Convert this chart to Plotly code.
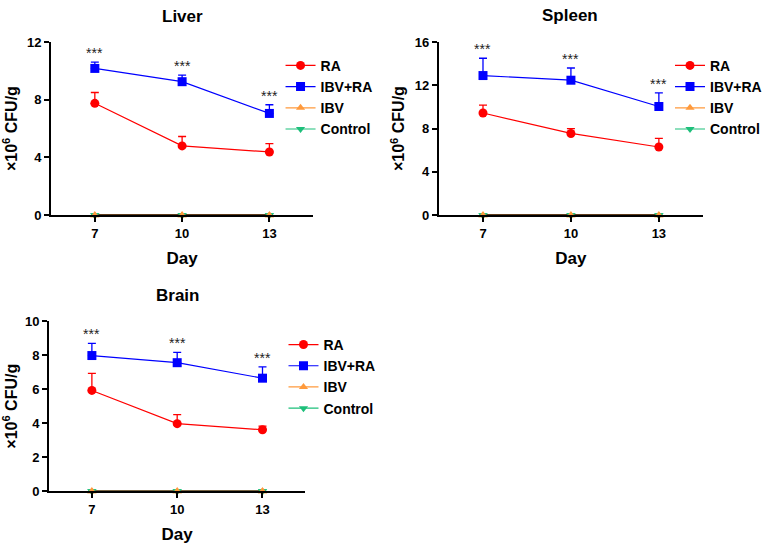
import plotly.graph_objects as go

days = [7, 10, 13]
panels = ["Liver", "Spleen", "Brain"]

liver_ra = [7.75, 4.8, 4.38]
liver_ra_err = [0.75, 0.65, 0.57]
liver_ibvra = [10.17, 9.25, 7.05]
liver_ibvra_err = [0.43, 0.45, 0.6]

spleen_ra = [9.44, 7.55, 6.3]
spleen_ra_err = [0.72, 0.45, 0.8]
spleen_ibvra = [12.9, 12.47, 10.04]
spleen_ibvra_err = [1.6, 1.13, 1.26]

brain_ra = [5.93, 3.98, 3.62]
brain_ra_err = [1.0, 0.53, 0.21]
brain_ibvra = [7.98, 7.56, 6.65]
brain_ibvra_err = [0.72, 0.61, 0.66]

ibv = [0, 0, 0]
control = [0, 0, 0]

y_max = [12, 16, 10]
y_dtick = [4, 4, 2]
sig_labels = ["***", "***", "***"]

FONT = "Liberation Sans, Arial, sans-serif"
RED = "#FF0000"
BLUE = "#0000FF"
ORANGE = "#FF9A3C"
GREEN = "#1DBF7A"

data = [
    (liver_ra, liver_ra_err, liver_ibvra, liver_ibvra_err),
    (spleen_ra, spleen_ra_err, spleen_ibvra, spleen_ibvra_err),
    (brain_ra, brain_ra_err, brain_ibvra, brain_ibvra_err),
]

W, H = 767, 548
xdom = [(52 / W, 318 / W), (446 / W, 714 / W), (50 / W, 310 / W)]
ydom = [(1 - 214 / H, 1 - 36 / H), (1 - 214 / H, 1 - 36 / H), (1 - 498 / H, 1 - 323 / H)]
legpos = [(285 / W, 1 - 44 / H), (681 / W, 1 - 44 / H), (288 / W, 1 - 331 / H)]
titlepos = [(185 / W, 1 - 10 / H), (579 / W, 1 - 9 / H), (180 / W, 1 - 297 / H)]

fig = go.Figure()
annotations = []

for i, (ra, ra_e, ir, ir_e) in enumerate(data):
    xa = "x" if i == 0 else f"x{i+1}"
    ya = "y" if i == 0 else f"y{i+1}"
    lg = "legend" if i == 0 else f"legend{i+1}"
    common = dict(xaxis=xa, yaxis=ya, legend=lg, mode="lines+markers", cliponaxis=False)
    fig.add_trace(go.Scatter(
        x=days, y=ra, name="RA",
        line=dict(color=RED, width=1.2),
        marker=dict(symbol="circle", size=9, color=RED),
        error_y=dict(type="data", array=ra_e, arrayminus=[0, 0, 0], symmetric=False,
                     color=RED, thickness=1.3, width=4),
        **common))
    fig.add_trace(go.Scatter(
        x=days, y=ir, name="IBV+RA",
        line=dict(color=BLUE, width=1.2),
        marker=dict(symbol="square", size=9, color=BLUE),
        error_y=dict(type="data", array=ir_e, arrayminus=[0, 0, 0], symmetric=False,
                     color=BLUE, thickness=1.3, width=4),
        **common))
    fig.add_trace(go.Scatter(
        x=days, y=ibv, name="IBV",
        line=dict(color=ORANGE, width=1.2),
        marker=dict(symbol="triangle-up", size=8, color=ORANGE),
        **common))
    fig.add_trace(go.Scatter(
        x=days, y=control, name="Control",
        line=dict(color=GREEN, width=1.2),
        marker=dict(symbol="triangle-down", size=8, color=GREEN),
        **common))

    fig.add_trace(go.Scatter(
        x=days, y=ibv, mode="lines", showlegend=False, hoverinfo="skip",
        line=dict(color="#5E3C1C", width=2.2), xaxis=xa, yaxis=ya, cliponaxis=False))
    fig.add_trace(go.Scatter(
        x=days, y=control, mode="markers", showlegend=False, hoverinfo="skip",
        marker=dict(symbol="triangle-down", size=8, color=GREEN),
        xaxis=xa, yaxis=ya, cliponaxis=False))
    fig.add_trace(go.Scatter(
        x=days, y=ibv, mode="markers", showlegend=False, hoverinfo="skip",
        marker=dict(symbol="triangle-up", size=8, color=ORANGE),
        xaxis=xa, yaxis=ya, cliponaxis=False))

    axis_x = dict(
        domain=list(xdom[i]), range=[5.5, 14.5], tickvals=days,
        ticktext=[str(d) for d in days], showgrid=False, zeroline=False,
        showline=True, linecolor="black", linewidth=2.2, ticks="outside",
        ticklen=5, tickwidth=2, tickcolor="black",
        tickfont=dict(family=FONT, size=13, color="black", weight="bold"),
        title=dict(text="<b>Day</b>", font=dict(family=FONT, size=17, color="black"), standoff=12),
        anchor=ya, fixedrange=True)
    axis_y = dict(
        domain=list(ydom[i]), range=[0, y_max[i]], dtick=y_dtick[i], tick0=0,
        showgrid=False, zeroline=False,
        showline=True, linecolor="black", linewidth=2.2, ticks="outside",
        ticklen=5, tickwidth=2, tickcolor="black",
        tickfont=dict(family=FONT, size=13, color="black", weight="bold"),
        title=dict(text="<b>×10<sup>6</sup> CFU/g</b>", font=dict(family=FONT, size=16, color="black"), standoff=6),
        anchor=xa, fixedrange=True)
    if i == 0:
        fig.update_layout(xaxis=axis_x, yaxis=axis_y)
    else:
        fig.update_layout(**{f"xaxis{i+1}": axis_x, f"yaxis{i+1}": axis_y})

    legend = dict(x=legpos[i][0], y=legpos[i][1], xanchor="left", yanchor="top",
                  bgcolor="rgba(0,0,0,0)", tracegroupgap=0, itemwidth=30,
                  font=dict(family=FONT, size=14, color="black", weight="bold"))
    fig.update_layout(**{lg: legend})

    for d, v, e, s in zip(days, ir, ir_e, sig_labels):
        annotations.append(dict(x=d, y=v + e, xref=xa, yref=ya, text=s, showarrow=False,
                                yanchor="bottom", yshift=-1,
                                font=dict(family=FONT, size=14, color="#222222")))

    annotations.append(dict(x=titlepos[i][0], y=titlepos[i][1], xref="paper", yref="paper",
                            text=f"<b>{panels[i]}</b>", showarrow=False,
                            xanchor="center", yanchor="middle",
                            font=dict(family=FONT, size=17, color="black")))

fig.update_layout(
    width=W, height=H, margin=dict(l=0, r=0, t=0, b=0),
    paper_bgcolor="white", plot_bgcolor="white",
    annotations=annotations, showlegend=True,
)

fig.write_html("out.html")
